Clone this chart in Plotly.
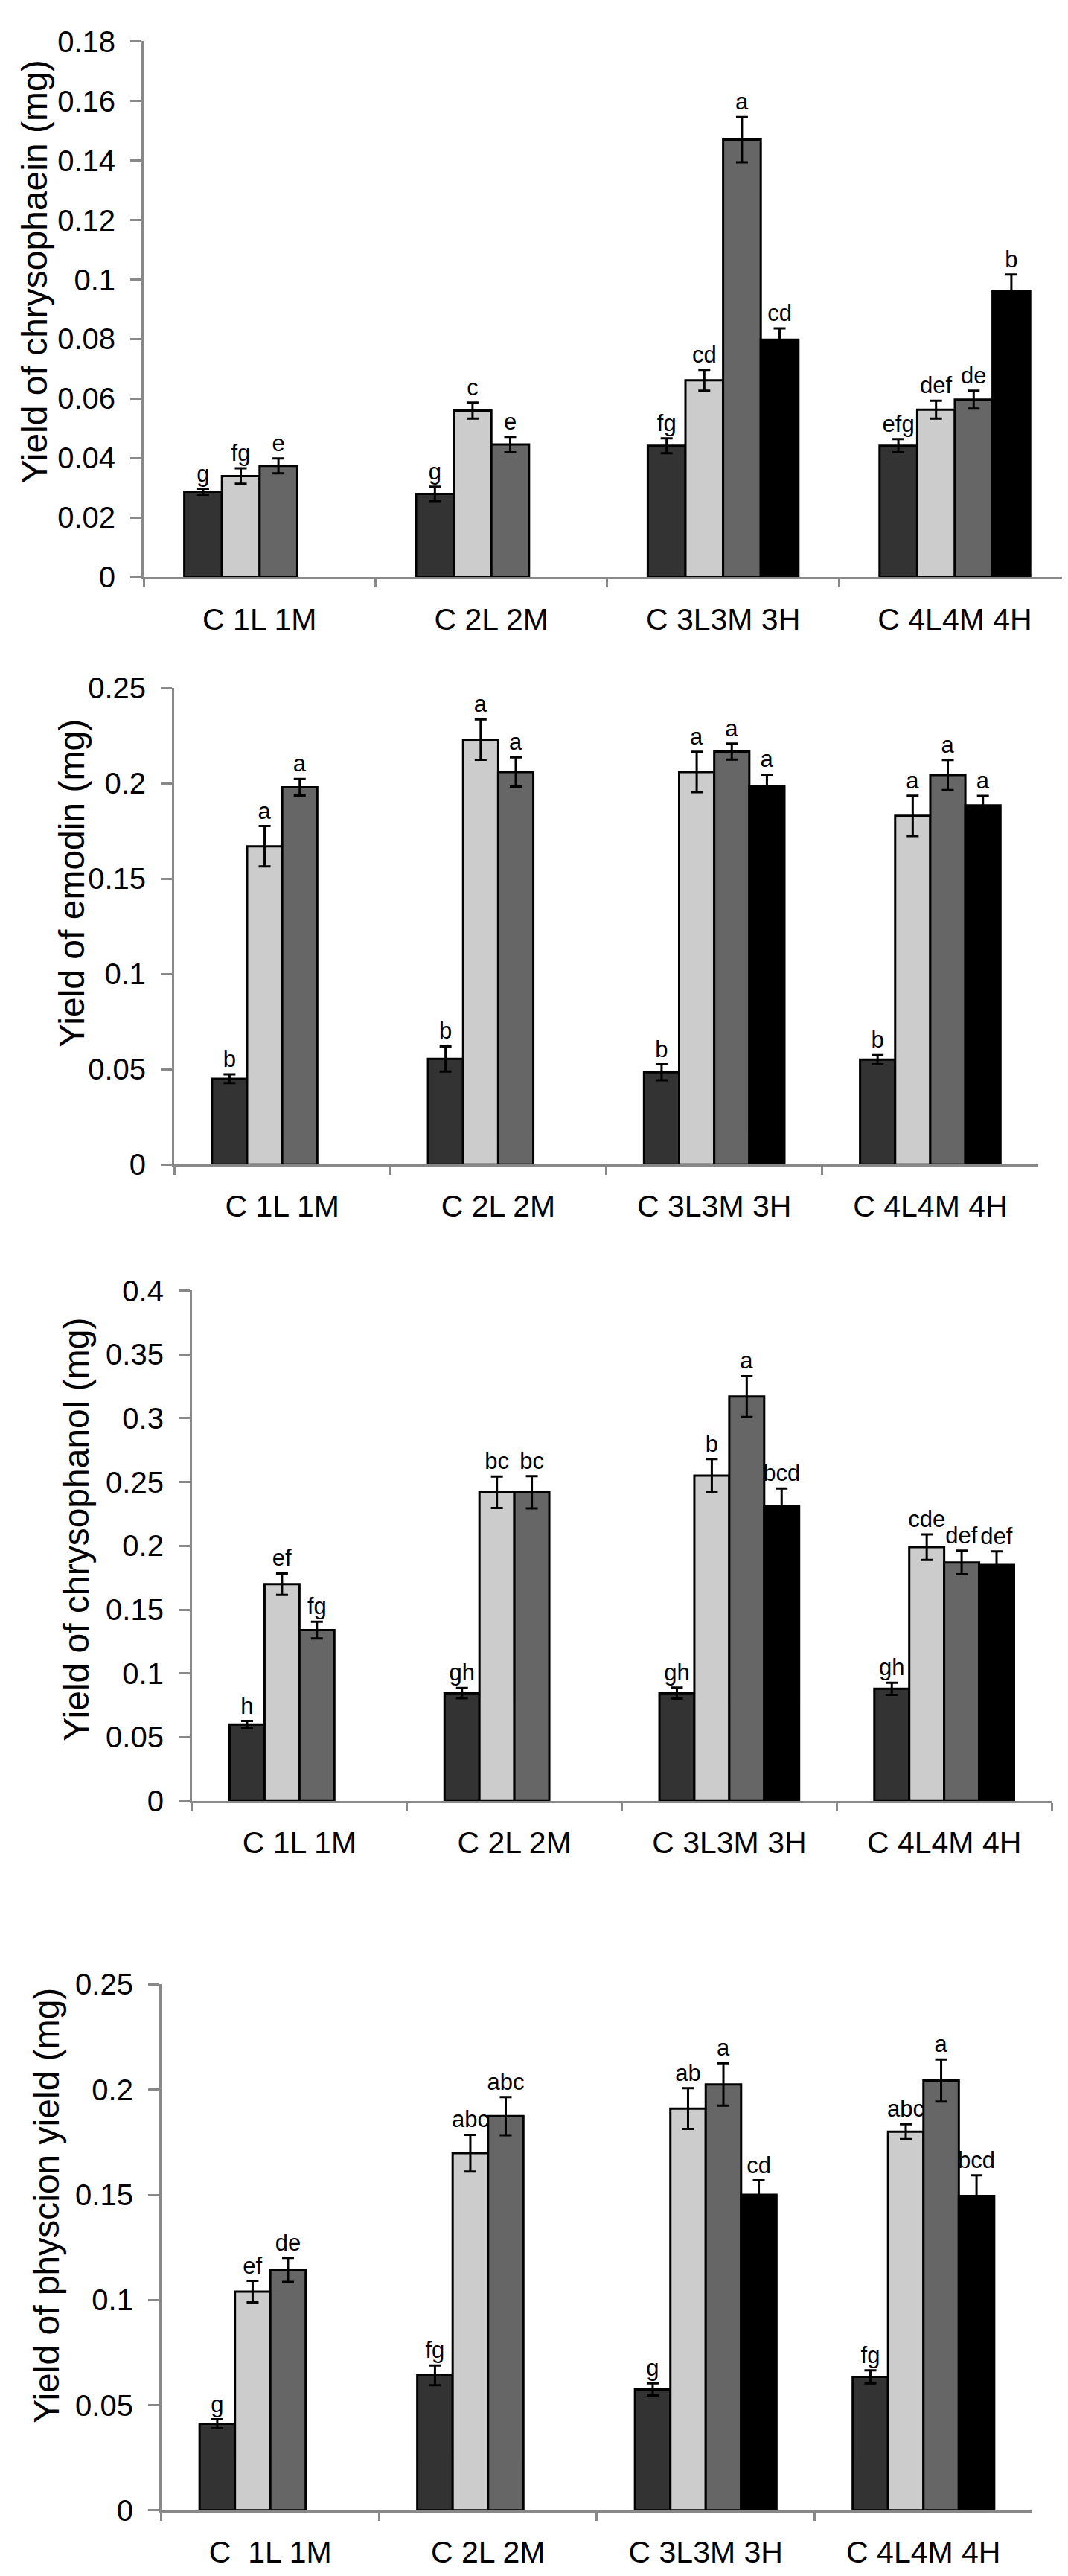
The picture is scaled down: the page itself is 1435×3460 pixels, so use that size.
import plotly.graph_objects as go

# group labels on the x axis
groups = ["C 1L 1M", "C 2L 2M", "C 3L3M 3H", "C 4L4M 4H"]
groups_last = ["C  1L 1M", "C 2L 2M", "C 3L3M 3H", "C 4L4M 4H"]

# treatments inside each group: C, L, M, H  (H only in groups 3 and 4)
bar_colors = ["#333333", "#cccccc", "#666666", "#000000"]

# chrysophaein
chrysophaein_mean = [[0.0287, 0.0280, 0.0442, 0.0442],
                     [0.0340, 0.0560, 0.0662, 0.0563],
                     [0.0374, 0.0446, 0.1470, 0.0597],
                     [None, None, 0.0798, 0.0960]]
chrysophaein_err = [[0.0010, 0.0024, 0.0025, 0.0022],
                    [0.0026, 0.0027, 0.0035, 0.0030],
                    [0.0025, 0.0026, 0.0076, 0.0030],
                    [None, None, 0.0038, 0.0057]]
chrysophaein_sig = [["g", "g", "fg", "efg"],
                    ["fg", "c", "cd", "def"],
                    ["e", "e", "a", "de"],
                    [None, None, "cd", "b"]]

# emodin
emodin_mean = [[0.0450, 0.0554, 0.0484, 0.0550],
               [0.1670, 0.2230, 0.2060, 0.1830],
               [0.1980, 0.2060, 0.2167, 0.2044],
               [None, None, 0.1986, 0.1885]]
emodin_err = [[0.0023, 0.0066, 0.0042, 0.0024],
              [0.0106, 0.0106, 0.0106, 0.0106],
              [0.0043, 0.0077, 0.0042, 0.0079],
              [None, None, 0.0060, 0.0050]]
emodin_sig = [["b", "b", "b", "b"],
              ["a", "a", "a", "a"],
              ["a", "a", "a", "a"],
              [None, None, "a", "a"]]

# chrysophanol
chrysophanol_mean = [[0.0600, 0.0846, 0.0846, 0.0880],
                     [0.1700, 0.2420, 0.2550, 0.1990],
                     [0.1340, 0.2420, 0.3170, 0.1870],
                     [None, None, 0.2310, 0.1850]]
chrysophanol_err = [[0.0028, 0.0040, 0.0043, 0.0047],
                    [0.0084, 0.0123, 0.0130, 0.0100],
                    [0.0066, 0.0126, 0.0160, 0.0093],
                    [None, None, 0.0140, 0.0107]]
chrysophanol_sig = [["h", "gh", "gh", "gh"],
                    ["ef", "bc", "b", "cde"],
                    ["fg", "bc", "a", "def"],
                    [None, None, "bcd", "def"]]

# physcion
physcion_mean = [[0.0412, 0.0642, 0.0575, 0.0635],
                 [0.1040, 0.1698, 0.1910, 0.1800],
                 [0.1143, 0.1874, 0.2025, 0.2043],
                 [None, None, 0.1500, 0.1495]]
physcion_err = [[0.0021, 0.0047, 0.0029, 0.0031],
                [0.0051, 0.0087, 0.0097, 0.0035],
                [0.0057, 0.0091, 0.0101, 0.0100],
                [None, None, 0.0069, 0.0098]]
physcion_sig = [["g", "fg", "g", "fg"],
                ["ef", "abc", "ab", "abc"],
                ["de", "abc", "a", "a"],
                [None, None, "cd", "bcd"]]

titles = ["Yield of chrysophaein (mg)", "Yield of emodin (mg)",
          "Yield of chrysophanol (mg)", "Yield of physcion yield (mg)"]
y_max = [0.18, 0.25, 0.4, 0.25]
y_step = [0.02, 0.05, 0.05, 0.05]

panels = [(chrysophaein_mean, chrysophaein_err, chrysophaein_sig),
          (emodin_mean, emodin_err, emodin_sig),
          (chrysophanol_mean, chrysophanol_err, chrysophanol_sig),
          (physcion_mean, physcion_err, physcion_sig)]

# where each panel sits on the page (paper fractions)
x_dom = [[0.129, 0.997], [0.1575, 0.9666], [0.1742, 0.9791], [0.1456, 0.961]]
y_dom = [[0.7818, 0.9926], [0.5509, 0.7383], [0.3006, 0.5014], [0.0217, 0.2286]]
title_pos = [(0.027, 0.902), (0.062, 0.6616), (0.066, 0.4075), (0.038, 0.1416)]

FONT = "Liberation Sans, Arial, Helvetica, sans-serif"
fig = go.Figure()

for p, (mean, err, sig) in enumerate(panels):
    xa = "x" if p == 0 else "x%d" % (p + 1)
    ya = "y" if p == 0 else "y%d" % (p + 1)
    cats = groups_last if p == 3 else groups
    for t in range(4):
        fig.add_trace(go.Bar(
            x=cats, y=mean[t], xaxis=xa, yaxis=ya, offsetgroup=str(t),
            marker=dict(color=bar_colors[t], line=dict(color="black", width=3)),
            error_y=dict(type="data", array=err[t], color="black", thickness=3, width=8),
            showlegend=False))
        # invisible bars up to the error bar top carry the letters
        tops = [None if m is None else m + e for m, e in zip(mean[t], err[t])]
        fig.add_trace(go.Bar(
            x=cats, y=tops, xaxis=xa, yaxis=ya, offsetgroup=str(t),
            marker=dict(color="rgba(0,0,0,0)", line=dict(width=0)),
            text=[s if s else "" for s in sig[t]], textposition="outside",
            constraintext="none", cliponaxis=False,
            textfont=dict(family=FONT, size=31, color="black"),
            showlegend=False, hoverinfo="skip"))

    axis_x = dict(domain=x_dom[p], anchor=ya, showline=True, linecolor="#888888",
                  linewidth=3, ticks="outside", tickson="boundaries", ticklen=11,
                  tickwidth=3, tickcolor="#888888", showgrid=False,
                  tickfont=dict(family=FONT, size=41, color="black"),
                  ticklabelstandoff=18)
    axis_y = dict(domain=y_dom[p], anchor=xa, range=[0, y_max[p] * 1.0005],
                  dtick=y_step[p], tick0=0, showline=True, linecolor="#888888",
                  linewidth=3, ticks="outside", ticklen=15, tickwidth=3,
                  tickcolor="#888888", showgrid=False, zeroline=False,
                  tickfont=dict(family=FONT, size=40, color="black"),
                  ticklabelstandoff=12)
    fig.layout["xaxis" if p == 0 else "xaxis%d" % (p + 1)] = axis_x
    fig.layout["yaxis" if p == 0 else "yaxis%d" % (p + 1)] = axis_y

    fig.add_annotation(text=titles[p], xref="paper", yref="paper",
                       x=title_pos[p][0], y=title_pos[p][1], textangle=-90,
                       xanchor="center", yanchor="middle", showarrow=False,
                       font=dict(family=FONT, size=48, color="black"))

fig.update_layout(width=1435, height=3460, barmode="group", bargap=0.35,
                  bargroupgap=0, plot_bgcolor="white", paper_bgcolor="white",
                  margin=dict(l=0, r=0, t=0, b=0), showlegend=False)

fig.write_html("out.html")
